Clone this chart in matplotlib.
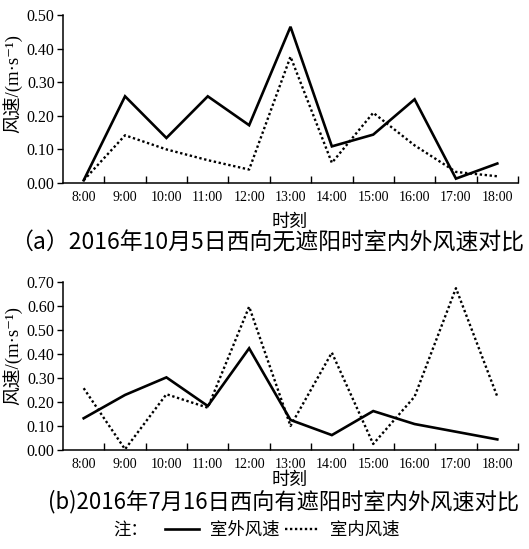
import numpy as np
import matplotlib
matplotlib.use('Agg')
import matplotlib.pyplot as plt

plt.rcParams['font.family'] = ['Liberation Serif', 'Noto Sans CJK SC', 'DejaVu Sans']

# 数据
hours = ['8:00', '9:00', '10:00', '11:00', '12:00', '13:00', '14:00',
         '15:00', '16:00', '17:00', '18:00']
out_a = [0.008, 0.258, 0.134, 0.258, 0.172, 0.465, 0.109, 0.144, 0.249, 0.013, 0.058]
in_a = [0.008, 0.142, 0.100, 0.068, 0.040, 0.376, 0.060, 0.209, 0.112, 0.033, 0.020]
out_b = [0.132, 0.229, 0.302, 0.183, 0.423, 0.125, 0.062, 0.162, 0.108, 0.076, 0.044]
in_b = [0.257, 0.003, 0.232, 0.176, 0.596, 0.100, 0.405, 0.025, 0.222, 0.673, 0.222]
title_a = '（a）2016年10月5日西向无遮阳时室内外风速对比'
title_b = '(b)2016年7月16日西向有遮阳时室内外风速对比'

W, H = 529, 549
fig = plt.figure(figsize=(W / 100, H / 100), dpi=100)

def fy(px):
    return 1 - px / H

ax1 = fig.add_axes([63 / W, fy(183), 455 / W, (183 - 15) / H])
ax2 = fig.add_axes([63 / W, fy(450), 455 / W, (450 - 281.7) / H])

x = np.arange(len(hours))
cjk = ['Noto Sans CJK SC', 'DejaVu Sans']

def draw(ax, outd, ind, ymax, step, ly):
    l1, = ax.plot(x, outd, color='black', lw=1.9, solid_joinstyle='miter')
    l2, = ax.plot(x, ind, color='black', lw=1.7, linestyle=(0, (1, 1.1)))
    ax.set_xlim(-0.5, len(hours) - 0.5)
    ax.set_ylim(0, ymax)
    ax.set_yticks(np.arange(0, ymax + 1e-9, step))
    ax.set_yticklabels(['%.2f' % v for v in np.arange(0, ymax + 1e-9, step)],
                       fontsize=11.5)
    ax.set_xticks(np.arange(0.5, len(hours) - 0.4, 1))
    ax.set_xticklabels([])
    ax.set_xticks(x, minor=True)
    ax.set_xticklabels(hours, minor=True, fontsize=10)
    ax.tick_params(axis='x', which='major', direction='in', length=5, width=1)
    ax.tick_params(axis='x', which='minor', length=0, pad=6)
    ax.tick_params(axis='y', direction='out', length=4, width=1, pad=2)
    for s in ['top', 'right']:
        ax.spines[s].set_visible(False)
    for s in ['left', 'bottom']:
        ax.spines[s].set_linewidth(1.1)
    ax.set_ylabel('风速/(m·s⁻¹)', fontsize=13.5)
    ax.yaxis.set_label_coords(-0.09, ly)
    return l1, l2

l1, l2 = draw(ax1, out_a, in_a, 0.5, 0.1, 0.59)
draw(ax2, out_b, in_b, 0.7, 0.1, 0.56)

fig.text(290 / W, fy(222), '时刻', fontsize=13, ha='center', va='center', family=cjk)
fig.text(267 / W, fy(243), title_a, fontsize=16.5, ha='center', va='center',
         family=cjk, fontweight='medium')
fig.text(290 / W, fy(480), '时刻', fontsize=13, ha='center', va='center', family=cjk)
fig.text(284 / W, fy(502), title_b, fontsize=16, ha='center', va='center',
         family=cjk, fontweight='medium')

fig.text(131 / W, fy(530), '注：', fontsize=12.5, ha='center', va='center', family=cjk)
fig.legend([l1, l2], ['室外风速', '室内风速'], loc='center',
           bbox_to_anchor=(282 / W, fy(530)), ncol=2, frameon=False,
           handlelength=2.0, handletextpad=0.6, columnspacing=0.3,
           prop={'family': cjk, 'size': 12.5})

fig.savefig('out.png', dpi=100)
